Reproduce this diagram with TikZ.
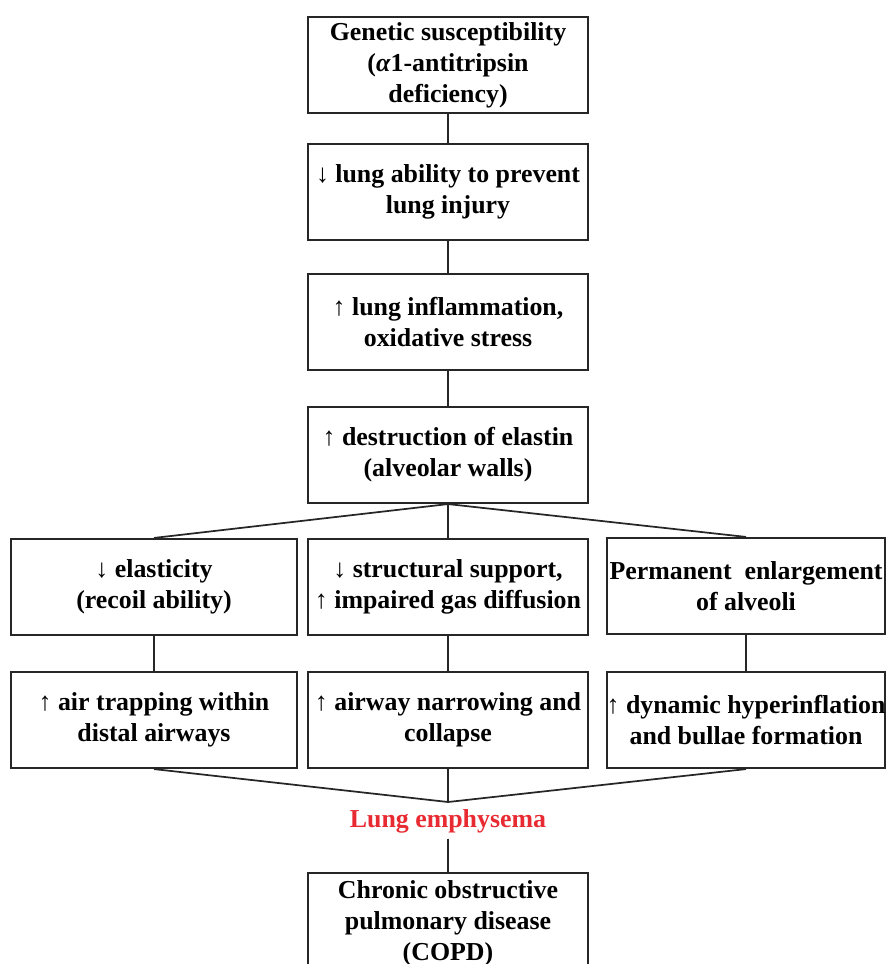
\documentclass[tikz,border=0pt]{standalone}
\usepackage{fontspec}
\setmainfont{Liberation Serif}
\usepackage{xcolor}
\definecolor{emphred}{RGB}{232,42,50}

\begin{document}
\begin{tikzpicture}[x=0.75pt,y=-0.75pt]
		\tikzstyle{every node}+=[font=\bfseries\fontsize{19.4}{23.25}\selectfont]
		\tikzstyle{stepbox}=[draw=black!85, line width=1.6pt, align=center, minimum width=210pt, minimum height=72pt, inner xsep=0pt, inner ysep=1pt]
		\tikzstyle{link}=[draw=black!85, line width=1.3pt]
		\useasboundingbox (0,0) rectangle (887,964);
		\clip (0,0) rectangle (887,964);
		% main chain
		\node [stepbox] (gen) at (448,65) {Genetic susceptibility\\(\textit{α}1-antitripsin\\deficiency)};
		\node [stepbox] (abil) at (448,192) {↓ lung ability to prevent\\lung injury};
		\node [stepbox] (infl) at (448,322) {↑ lung inflammation,\\oxidative stress};
		\node [stepbox] (destr) at (448,455) {↑ destruction of elastin\\(alveolar walls)};
		% three branches
		\node [stepbox, minimum width=214.5pt] (elast) at (154,587) {↓ elasticity\\(recoil ability)};
		\node [stepbox] (supp) at (448,587) {↓ structural support,\\↑ impaired gas diffusion};
		\node [stepbox, minimum width=209pt] (enl) at (746,586) {Permanent\ \ enlargement\\of alveoli};
		\node [stepbox, minimum width=214.5pt] (trap) at (154,720) {↑ air trapping within\\distal airways};
		\node [stepbox] (narr) at (448,720) {↑ airway narrowing and\\collapse};
		\node [stepbox, minimum width=209pt] (hyp) at (746,720) {↑ dynamic hyperinflation\\and bullae formation};
		% outcome
		\coordinate (join) at (448,802);
		\node [text=emphred, inner sep=0pt, minimum height=26pt] (emph) at (448,821) {Lung emphysema};
		\node [stepbox, minimum height=75pt] (copd) at (448,923) {Chronic obstructive\\pulmonary disease\\(COPD)};
		\draw [link] (gen) -- (abil);
		\draw [link] (abil) -- (infl);
		\draw [link] (infl) -- (destr);
		\draw [link] (destr.south) -- (elast.north);
		\draw [link] (destr.south) -- (supp.north);
		\draw [link] (destr.south) -- (enl.north);
		\draw [link] (elast) -- (trap);
		\draw [link] (supp) -- (narr);
		\draw [link] (enl) -- (hyp);
		\draw [link] (trap.south) -- (join);
		\draw [link] (narr.south) -- (join);
		\draw [link] (hyp.south) -- (join);
		\draw [link] (emph.south) -- (copd.north);
	\end{tikzpicture}
\end{document}
